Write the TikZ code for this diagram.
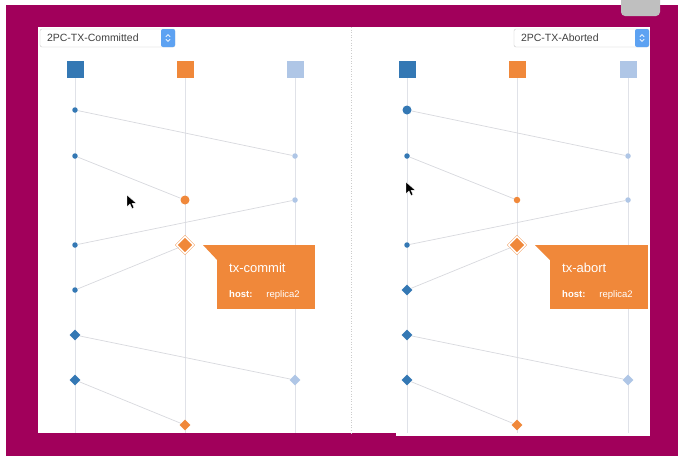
\documentclass[tikz,border=0pt]{standalone}
\usepackage{fontspec}
\setmainfont{Liberation Sans}
\usetikzlibrary{shapes.geometric, positioning}
\definecolor{framebg}{HTML}{A1005B}
\definecolor{nodeblue}{HTML}{3478B4}
\definecolor{nodeorange}{HTML}{F0883A}
\definecolor{nodelight}{HTML}{AFC6E6}
\definecolor{msggrey}{HTML}{D8D9DE}
\definecolor{lifegrey}{HTML}{E0E2E8}
\definecolor{menublue}{HTML}{5DA2F2}
\tikzstyle{head} = [
  rectangle,
  minimum size=17pt,
  inner sep=0pt
]
\tikzstyle{dot} = [
  circle,
  minimum size=5.5pt,
  inner sep=0pt
]
\tikzstyle{bigdot} = [
  circle,
  minimum size=9pt,
  inner sep=0pt
]
\tikzstyle{event} = [
  diamond,
  minimum size=11pt,
  inner sep=0pt
]
\tikzstyle{selected} = [
  diamond,
  minimum size=17pt,
  inner sep=0pt,
  fill=nodeorange,
  draw=nodeorange,
  double=white,
  double distance=1.4pt
]
\tikzstyle{lifeline} = [draw=lifegrey, line width=0.9pt]
\tikzstyle{msg} = [draw=msggrey, line width=0.7pt]
\tikzstyle{menu} = [
  rectangle,
  rounded corners=2pt,
  draw=black!22,
  fill=white,
  minimum width=135pt,
  minimum height=18pt,
  inner xsep=7pt,
  inner ysep=0pt,
  text width=121pt,
  align=left,
  text=black!75,
  font=\fontsize{10.5}{12}\selectfont
]
\tikzstyle{menubutton} = [
  rectangle,
  rounded corners=2pt,
  fill=menublue,
  minimum width=14pt,
  minimum height=18pt,
  inner sep=0pt
]
\tikzstyle{chevron} = [draw=white, line width=0.8pt]
\tikzstyle{tipbox} = [
  rectangle,
  fill=nodeorange,
  text=white,
  minimum width=98pt,
  minimum height=64pt,
  inner xsep=12pt,
  text width=74pt,
  align=left,
  font=\fontsize{9.5}{11}\selectfont
]
\tikzstyle{cursor} = [fill=black, draw=white, line width=0.4pt]
\pgfdeclarelayer{background}
\pgfsetlayers{background,main}
\begin{document}
\begin{tikzpicture}[x=1pt, y=-1pt]
    \useasboundingbox (0,0) rectangle (678,456);

    \coordinate (commit-h1-end) at (75,433);
    \coordinate (commit-h2-end) at (185,433);
    \coordinate (commit-h3-end) at (295,433);
    \coordinate (abort-h1-end) at (407,433);
    \coordinate (abort-h2-end) at (517,433);
    \coordinate (abort-h3-end) at (628,433);

    \node (commit-menu) [menu] at (107.5,38) {2PC-TX-Committed};
    \node (commit-button) [menubutton, anchor=east] at (commit-menu.east) {};
    \node (abort-menu) [menu] at (581.5,38) {2PC-TX-Aborted};
    \node (abort-button) [menubutton, anchor=east] at (abort-menu.east) {};
    \draw [chevron] (commit-button.center) ++(-2.2,-1.2) -- ++(2.2,-2.2) -- ++(2.2,2.2);
    \draw [chevron] (commit-button.center) ++(-2.2,1.2) -- ++(2.2,2.2) -- ++(2.2,-2.2);
    \draw [chevron] (abort-button.center) ++(-2.2,-1.2) -- ++(2.2,-2.2) -- ++(2.2,2.2);
    \draw [chevron] (abort-button.center) ++(-2.2,1.2) -- ++(2.2,2.2) -- ++(2.2,-2.2);

    \node (commit-h1) [head, fill=nodeblue] at (75,69) {};
    \node (commit-h2) [head, fill=nodeorange] at (185,69) {};
    \node (commit-h3) [head, fill=nodelight] at (295,69) {};
    \node (abort-h1) [head, fill=nodeblue] at (407,69) {};
    \node (abort-h2) [head, fill=nodeorange] at (517,69) {};
    \node (abort-h3) [head, fill=nodelight] at (628,69) {};

    \node (commit-e1) [dot, fill=nodeblue] at (75,110) {};
    \node (commit-e2) [dot, fill=nodelight] at (295,156) {};
    \node (commit-e3) [dot, fill=nodeblue] at (75,156) {};
    \node (commit-e4) [bigdot, fill=nodeorange] at (185,200) {};
    \node (commit-e5) [dot, fill=nodelight] at (295,200) {};
    \node (commit-e6) [dot, fill=nodeblue] at (75,245) {};
    \node (commit-e7) [selected] at (185,245) {};
    \node (commit-e8) [dot, fill=nodeblue] at (75,290) {};
    \node (commit-e9) [event, fill=nodeblue] at (75,335) {};
    \node (commit-e10) [event, fill=nodelight] at (295,380) {};
    \node (commit-e11) [event, fill=nodeblue] at (75,380) {};
    \node (commit-e12) [event, fill=nodeorange] at (185,425) {};

    \node (abort-e1) [bigdot, fill=nodeblue] at (407,110) {};
    \node (abort-e2) [dot, fill=nodelight] at (628,156) {};
    \node (abort-e3) [dot, fill=nodeblue] at (407,156) {};
    \node (abort-e4) [dot, minimum size=6.5pt, fill=nodeorange] at (517,200) {};
    \node (abort-e5) [dot, fill=nodelight] at (628,200) {};
    \node (abort-e6) [dot, fill=nodeblue] at (407,245) {};
    \node (abort-e7) [selected] at (517,245) {};
    \node (abort-e8) [event, fill=nodeblue] at (407,290) {};
    \node (abort-e9) [event, fill=nodeblue] at (407,335) {};
    \node (abort-e10) [event, fill=nodelight] at (628,380) {};
    \node (abort-e11) [event, fill=nodeblue] at (407,380) {};
    \node (abort-e12) [event, fill=nodeorange] at (517,425) {};

    \draw [msg] (commit-e1) -- (commit-e2);
    \draw [msg] (commit-e3) -- (commit-e4);
    \draw [msg] (commit-e5) -- (commit-e6);
    \draw [msg] (commit-e8) -- (commit-e7);
    \draw [msg] (commit-e9) -- (commit-e10);
    \draw [msg] (commit-e11) -- (commit-e12);
    \draw [msg] (abort-e1) -- (abort-e2);
    \draw [msg] (abort-e3) -- (abort-e4);
    \draw [msg] (abort-e5) -- (abort-e6);
    \draw [msg] (abort-e8) -- (abort-e7);
    \draw [msg] (abort-e9) -- (abort-e10);
    \draw [msg] (abort-e11) -- (abort-e12);

    \coordinate (commit-tip-point) at (203,245);
    \node (commit-tip) [tipbox, anchor=north west] at (217,245) {\rule{0pt}{17pt}{\fontsize{13}{15}\selectfont tx-commit}\\[14pt]\textbf{host:}\hspace{14pt}replica2};
    \fill [nodeorange] (commit-tip-point) -- ([xshift=2pt]commit-tip.north west) -- ([xshift=2pt, yshift=-17pt]commit-tip.north west) -- cycle;
    \coordinate (abort-tip-point) at (535,245);
    \node (abort-tip) [tipbox, anchor=north west] at (550,245) {\rule{0pt}{17pt}{\fontsize{13}{15}\selectfont tx-abort}\\[14pt]\textbf{host:}\hspace{14pt}replica2};
    \fill [nodeorange] (abort-tip-point) -- ([xshift=2pt]abort-tip.north west) -- ([xshift=2pt, yshift=-17pt]abort-tip.north west) -- cycle;

    \draw [cursor] (127,195) -- ++(0,12) -- ++(3,-3) -- ++(2,4.5) -- ++(2,-1) -- ++(-2,-4.3) -- ++(4.2,0) -- cycle;
    \draw [cursor] (406,182) -- ++(0,12) -- ++(3,-3) -- ++(2,4.5) -- ++(2,-1) -- ++(-2,-4.3) -- ++(4.2,0) -- cycle;

    \begin{pgfonlayer}{background}
      \fill [framebg] (6,5) rectangle (678,456);
      \fill [black!25, rounded corners=4pt] (621,-6) rectangle (660,16);
      \fill [white] (38,27) rectangle (650,433);
      \fill [white] (396,433) rectangle (650,436);
      \draw [black!20, dotted, line width=0.6pt] (351,27) -- (351,433);
      \draw [lifeline] (commit-h1) -- (commit-h1-end);
      \draw [lifeline] (commit-h2) -- (commit-h2-end);
      \draw [lifeline] (commit-h3) -- (commit-h3-end);
      \draw [lifeline] (abort-h1) -- (abort-h1-end);
      \draw [lifeline] (abort-h2) -- (abort-h2-end);
      \draw [lifeline] (abort-h3) -- (abort-h3-end);
    \end{pgfonlayer}
  \end{tikzpicture}
\end{document}
